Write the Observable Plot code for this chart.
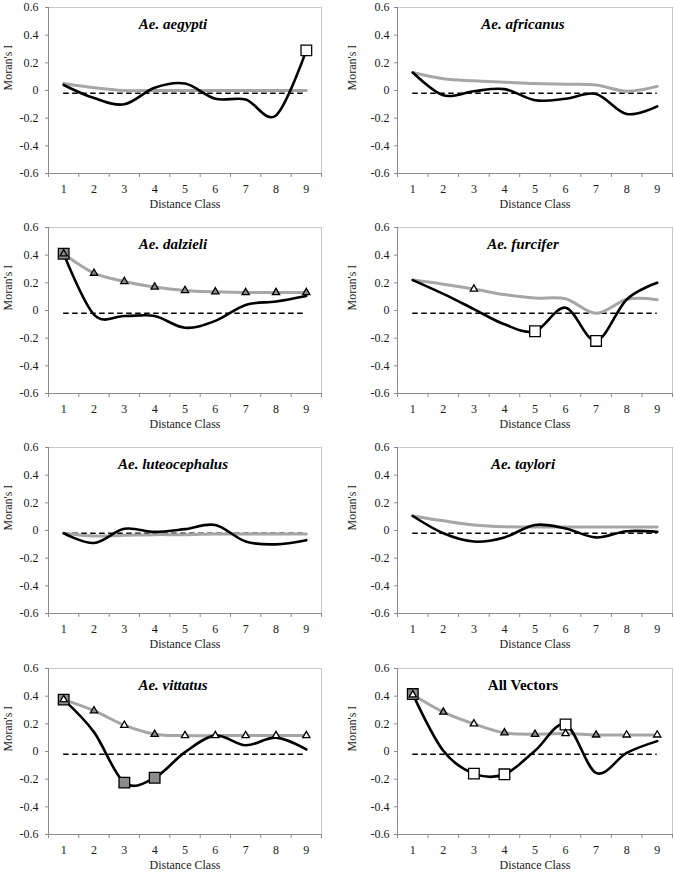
<!DOCTYPE html>
<html><head><meta charset="utf-8">
<script src="https://cdn.jsdelivr.net/npm/d3@7"></script>
<script src="https://cdn.jsdelivr.net/npm/@observablehq/plot@0.6"></script>
<style>
html,body{margin:0;padding:0;background:#fff;}
#fig{position:relative;width:675px;height:874px;overflow:hidden;background:#fff;}
.panel{position:absolute;}
</style></head><body><div id="fig"></div>
<script>
// ---- data ----
const classes = [1, 2, 3, 4, 5, 6, 7, 8, 9];
const classBounds = [0.5, 1.5, 2.5, 3.5, 4.5, 5.5, 6.5, 7.5, 8.5, 9.5];
const yTicks = [-0.6, -0.4, -0.2, 0, 0.2, 0.4, 0.6];
const expectedI = -0.02;
const xLabel = "Distance Class";
const yLabel = "Moran's I";
const titles = ["Ae. aegypti", "Ae. africanus", "Ae. dalzieli", "Ae. furcifer",
                "Ae. luteocephalus", "Ae. taylori", "Ae. vittatus", "All Vectors"];

// black curve (observed Moran's I) and grey curve, per distance class 1..9
const blackAegypti = [0.04, -0.055, -0.10, 0.02, 0.05, -0.06, -0.065, -0.18, 0.29];
const greyAegypti = [0.05, 0.02, 0.0, 0.0, 0.0, 0.0, 0.0, 0.0, 0.0];
const blackAfricanus = [0.13, -0.035, -0.005, 0.01, -0.07, -0.06, -0.025, -0.17, -0.115];
const greyAfricanus = [0.13, 0.085, 0.07, 0.06, 0.05, 0.045, 0.04, -0.005, 0.03];
const blackDalzieli = [0.41, -0.03, -0.04, -0.04, -0.125, -0.075, 0.04, 0.065, 0.105];
const greyDalzieli = [0.41, 0.27, 0.21, 0.17, 0.145, 0.135, 0.13, 0.13, 0.13];
const blackFurcifer = [0.22, 0.12, 0.01, -0.10, -0.15, 0.02, -0.22, 0.08, 0.20];
const greyFurcifer = [0.22, 0.19, 0.155, 0.115, 0.09, 0.085, -0.02, 0.08, 0.078];
const blackLuteocephalus = [-0.02, -0.09, 0.012, -0.01, 0.01, 0.04, -0.08, -0.10, -0.07];
const greyLuteocephalus = [-0.02, -0.04, -0.035, -0.03, -0.03, -0.025, -0.025, -0.025, -0.025];
const blackTaylori = [0.105, -0.02, -0.08, -0.05, 0.04, 0.015, -0.05, -0.005, -0.01];
const greyTaylori = [0.105, 0.07, 0.04, 0.027, 0.025, 0.025, 0.025, 0.025, 0.025];
const blackVittatus = [0.375, 0.14, -0.225, -0.19, -0.005, 0.115, 0.045, 0.10, 0.015];
const greyVittatus = [0.375, 0.295, 0.19, 0.125, 0.115, 0.115, 0.115, 0.115, 0.115];
const blackAll = [0.415, 0.005, -0.16, -0.165, 0.005, 0.195, -0.155, -0.01, 0.075];
const greyAll = [0.41, 0.285, 0.2, 0.135, 0.125, 0.13, 0.12, 0.12, 0.12];

// significance markers: "o" = open marker, "f" = filled marker, "" = none
const sqAegypti = ["", "", "", "", "", "", "", "", "o"];
const sqAfricanus = ["", "", "", "", "", "", "", "", ""];
const sqDalzieli = ["f", "", "", "", "", "", "", "", ""];
const sqFurcifer = ["", "", "", "", "o", "", "o", "", ""];
const sqLuteocephalus = ["", "", "", "", "", "", "", "", ""];
const sqTaylori = ["", "", "", "", "", "", "", "", ""];
const sqVittatus = ["f", "", "f", "f", "", "", "", "", ""];
const sqAll = ["f", "", "o", "o", "", "o", "", "", ""];

const triAegypti = ["", "", "", "", "", "", "", "", ""];
const triAfricanus = ["", "", "", "", "", "", "", "", ""];
const triDalzieli = ["f", "f", "f", "f", "f", "f", "f", "f", "f"];
const triFurcifer = ["", "", "o", "", "", "", "", "", ""];
const triLuteocephalus = ["", "", "", "", "", "", "", "", ""];
const triTaylori = ["", "", "", "", "", "", "", "", ""];
const triVittatus = ["o", "f", "o", "f", "o", "o", "o", "o", "o"];
const triAll = ["o", "f", "o", "f", "f", "o", "f", "o", "o"];

const blacks = [blackAegypti, blackAfricanus, blackDalzieli, blackFurcifer, blackLuteocephalus, blackTaylori, blackVittatus, blackAll];
const greys = [greyAegypti, greyAfricanus, greyDalzieli, greyFurcifer, greyLuteocephalus, greyTaylori, greyVittatus, greyAll];
const squares = [sqAegypti, sqAfricanus, sqDalzieli, sqFurcifer, sqLuteocephalus, sqTaylori, sqVittatus, sqAll];
const triangles = [triAegypti, triAfricanus, triDalzieli, triFurcifer, triLuteocephalus, triTaylori, triVittatus, triAll];

// ---- drawing ----
const FONT = "Liberation Serif";
const fmt = d => d === 0 ? "0" : d3.format(".1f")(d).replace("\u2212", "-");
const fig = document.getElementById("fig");
const rowTops = [-1, 219, 439, 660];

titles.forEach((title, i) => {
  const col = i % 2, row = Math.floor(i / 2);
  const left = col === 0 ? 0 : 337;
  const width = col === 0 ? 337 : 338;
  const mL = col === 0 ? 48 : 60;
  const mR = col === 0 ? 16 : 3;
  const ylDx = col === 0 ? -40 : -45;
  const tickPad = col === 0 ? 7 : 5;

  const line = (arr) => classes.map((c, k) => ({c, v: arr[k]}));
  const blackData = line(blacks[i]);
  const greyData = line(greys[i]);
  const marks = (arr, src, code) => classes.map((c, k) => ({c, v: src[k], m: arr[k]})).filter(d => d.m === code);
  const sqOpen = marks(squares[i], blacks[i], "o");
  const sqFill = marks(squares[i], blacks[i], "f");
  const trOpen = marks(triangles[i], greys[i], "o");
  const trFill = marks(triangles[i], greys[i], "f");
  const italic = title.startsWith("Ae.");

  const chart = Plot.plot({
    width, height: 218,
    marginLeft: mL, marginRight: mR, marginTop: 8, marginBottom: 44,
    x: {domain: [0.5, 9.5]},
    y: {domain: [-0.6, 0.6]},
    style: {fontFamily: FONT, fontSize: "12px", color: "#1a1a1a", background: "#fff"},
    marks: [
      Plot.frame({stroke: "#c8c8c8"}),
      Plot.ruleX([classBounds[0]], {stroke: "#8c8c8c"}),
      Plot.ruleY([yTicks[0]], {stroke: "#8c8c8c"}),
      Plot.axisY({ticks: yTicks, tickSize: 3, tickPadding: tickPad, tickFormat: fmt, label: null, stroke: "#8c8c8c", fontFamily: FONT, fontSize: 12}),
      Plot.axisX({ticks: classBounds, tickSize: 4, tickFormat: () => "", label: null, stroke: "#8c8c8c"}),
      Plot.axisX({ticks: classes, tickSize: 0, tickPadding: 11, tickFormat: d => String(d), label: null, fontFamily: FONT, fontSize: 12}),
      Plot.text([xLabel], {frameAnchor: "bottom", dy: 34, fontSize: 12, fontFamily: FONT, fill: "#1a1a1a"}),
      Plot.text([yLabel], {frameAnchor: "left", dx: ylDx, rotate: -90, fontSize: 12, fontFamily: FONT, fill: "#1a1a1a"}),
      Plot.ruleY([{y: expectedI}], {y: "y", x1: () => classes[0], x2: () => classes[classes.length - 1],
        stroke: "#000", strokeWidth: 1.5, strokeDasharray: "5.5,3.5"}),
      Plot.line(greyData, {x: "c", y: "v", stroke: "#a6a6a6", strokeWidth: 3, curve: "cardinal"}),
      Plot.line(blackData, {x: "c", y: "v", stroke: "#000", strokeWidth: 2.6, curve: "cardinal"}),
      Plot.dot(sqOpen, {x: "c", y: "v", symbol: "square", r: 6, fill: "#fff", stroke: "#000", strokeWidth: 1.3}),
      Plot.dot(sqFill, {x: "c", y: "v", symbol: "square", r: 6, fill: "#8c8c8c", stroke: "#000", strokeWidth: 1.3}),
      Plot.dot(trOpen, {x: "c", y: "v", symbol: "triangle", r: 2.7, fill: "#fff", stroke: "#000", strokeWidth: 1.3}),
      Plot.dot(trFill, {x: "c", y: "v", symbol: "triangle", r: 2.7, fill: "#8c8c8c", stroke: "#000", strokeWidth: 1.3}),
      Plot.text([title], {frameAnchor: "top", dy: 10.5, dx: -12, fontSize: 15, fontWeight: "bold", fontFamily: FONT,
        fontStyle: italic ? "italic" : "normal", fill: "#000"})
    ]
  });
  const div = document.createElement("div");
  div.className = "panel";
  div.style.left = left + "px";
  div.style.top = rowTops[row] + "px";
  div.appendChild(chart);
  fig.appendChild(div);
});
</script>
</body></html>
